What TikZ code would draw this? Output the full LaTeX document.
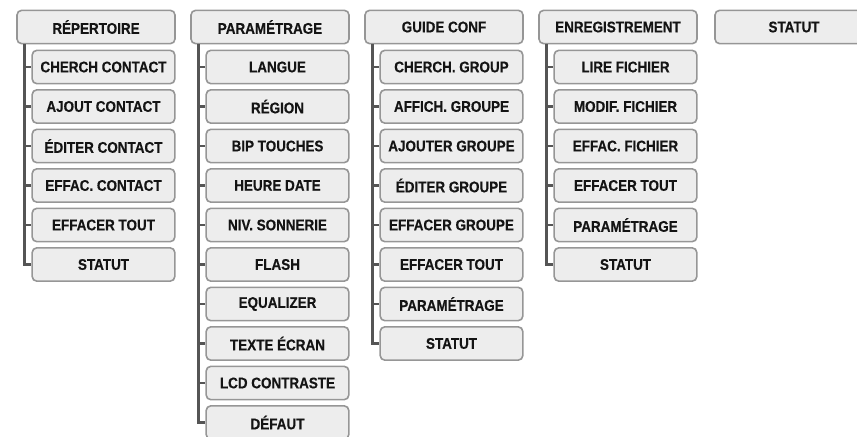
\documentclass[tikz,border=0pt]{standalone}
\usepackage{xcolor}
\usepackage{fontspec}
\setmainfont[FakeStretch=0.87, BoldFeatures={FakeBold=0.4}]{Liberation Sans}
\usepackage{tikz}

\definecolor{boxfill}{HTML}{EDEDED}
\definecolor{boxline}{HTML}{969696}
\definecolor{treeline}{HTML}{555555}
\definecolor{ink}{HTML}{141414}

\tikzset{
  menu/.style={draw=boxline, fill=boxfill, line width=1.2pt, rounded corners=3.5pt,
    minimum width=118.5pt, minimum height=25pt, inner sep=0pt,
    text=ink, font=\bfseries\fontsize{11.6}{13}\selectfont},
  sub/.style={menu, minimum width=107pt},
  tree/.style={draw=treeline, line width=2.2pt}
}

\begin{document}
\begin{tikzpicture}[x=0.75pt, y=-0.75pt]
    \useasboundingbox (0,0) rectangle (857,436);

    % repertoire
    \node[menu] (rep) at (96,27) {RÉPERTOIRE};
    \node[sub] (rep1) at (103.5,67) {CHERCH CONTACT};
    \node[sub] (rep2) at (103.5,106.5) {AJOUT CONTACT};
    \node[sub] (rep3) at (103.5,146) {ÉDITER CONTACT};
    \node[sub] (rep4) at (103.5,185.5) {EFFAC. CONTACT};
    \node[sub] (rep5) at (103.5,225) {EFFACER TOUT};
    \node[sub] (rep6) at (103.5,264.5) {STATUT};
    \coordinate (repT) at ([xshift=6pt]rep.south west);
    \draw[tree] (repT) |- (rep1.west) (repT) |- (rep2.west) (repT) |- (rep3.west)
        (repT) |- (rep4.west) (repT) |- (rep5.west) (repT) |- (rep6.west);

    % parametrage
    \node[menu] (par) at (270,27) {PARAMÉTRAGE};
    \node[sub] (par1) at (277.5,67) {LANGUE};
    \node[sub] (par2) at (277.5,106.5) {RÉGION};
    \node[sub] (par3) at (277.5,146) {BIP TOUCHES};
    \node[sub] (par4) at (277.5,185.5) {HEURE DATE};
    \node[sub] (par5) at (277.5,225) {NIV. SONNERIE};
    \node[sub] (par6) at (277.5,264.5) {FLASH};
    \node[sub] (par7) at (277.5,304) {EQUALIZER};
    \node[sub] (par8) at (277.5,343.5) {TEXTE ÉCRAN};
    \node[sub] (par9) at (277.5,383) {LCD CONTRASTE};
    \node[sub] (par10) at (277.5,422.5) {DÉFAUT};
    \coordinate (parT) at ([xshift=6pt]par.south west);
    \draw[tree] (parT) |- (par1.west) (parT) |- (par2.west) (parT) |- (par3.west)
        (parT) |- (par4.west) (parT) |- (par5.west) (parT) |- (par6.west)
        (parT) |- (par7.west) (parT) |- (par8.west) (parT) |- (par9.west)
        (parT) |- (par10.west);

    % guide conf
    \node[menu] (gui) at (444,27) {GUIDE CONF};
    \node[sub] (gui1) at (451.5,67) {CHERCH. GROUP};
    \node[sub] (gui2) at (451.5,106.5) {AFFICH. GROUPE};
    \node[sub] (gui3) at (451.5,146) {AJOUTER GROUPE};
    \node[sub] (gui4) at (451.5,185.5) {ÉDITER GROUPE};
    \node[sub] (gui5) at (451.5,225) {EFFACER GROUPE};
    \node[sub] (gui6) at (451.5,264.5) {EFFACER TOUT};
    \node[sub] (gui7) at (451.5,304) {PARAMÉTRAGE};
    \node[sub] (gui8) at (451.5,343.5) {STATUT};
    \coordinate (guiT) at ([xshift=6pt]gui.south west);
    \draw[tree] (guiT) |- (gui1.west) (guiT) |- (gui2.west) (guiT) |- (gui3.west)
        (guiT) |- (gui4.west) (guiT) |- (gui5.west) (guiT) |- (gui6.west)
        (guiT) |- (gui7.west) (guiT) |- (gui8.west);

    % enregistrement
    \node[menu] (enr) at (618,27) {ENREGISTREMENT};
    \node[sub] (enr1) at (625.5,67) {LIRE FICHIER};
    \node[sub] (enr2) at (625.5,106.5) {MODIF. FICHIER};
    \node[sub] (enr3) at (625.5,146) {EFFAC. FICHIER};
    \node[sub] (enr4) at (625.5,185.5) {EFFACER TOUT};
    \node[sub] (enr5) at (625.5,225) {PARAMÉTRAGE};
    \node[sub] (enr6) at (625.5,264.5) {STATUT};
    \coordinate (enrT) at ([xshift=6pt]enr.south west);
    \draw[tree] (enrT) |- (enr1.west) (enrT) |- (enr2.west) (enrT) |- (enr3.west)
        (enrT) |- (enr4.west) (enrT) |- (enr5.west) (enrT) |- (enr6.west);

    % statut
    \node[menu] (sta) at (794,27) {STATUT};
\end{tikzpicture}
\end{document}
